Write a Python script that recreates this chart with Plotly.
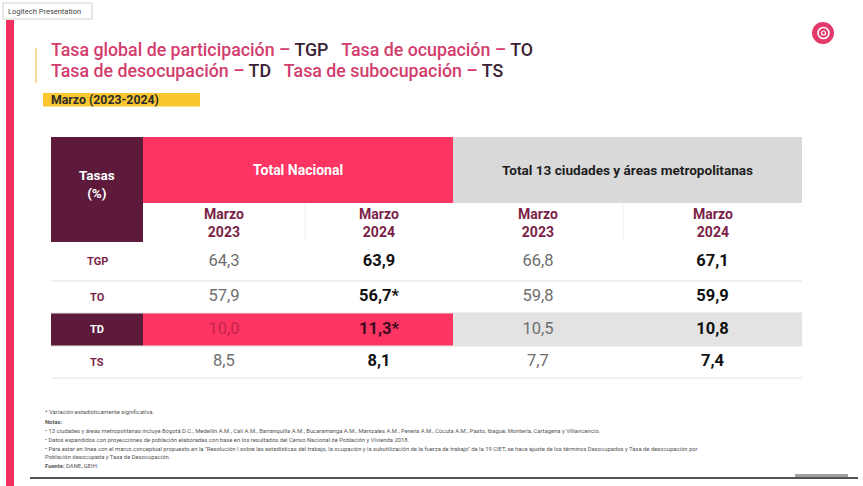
import plotly.graph_objects as go

# ---------------- data ----------------
rates = ["TGP", "TO", "TD", "TS"]
group_labels = ["Total Nacional", "Total 13 ciudades y áreas metropolitanas"]
period_labels = ["Marzo<br>2023", "Marzo<br>2024", "Marzo<br>2023", "Marzo<br>2024"]
nacional_2023 = [64.3, 57.9, 10.0, 8.5]
nacional_2024 = [63.9, 56.7, 11.3, 8.1]
ciudades_2023 = [66.8, 59.8, 10.5, 7.7]
ciudades_2024 = [67.1, 59.9, 10.8, 7.4]
significant_nacional_2024 = [False, True, True, False]
significant_ciudades_2024 = [False, False, False, False]

# ---------------- style / layout constants ----------------
W, H = 863, 486
FONT = "Roboto, Arial, sans-serif"
PINK = "#fe3462"
MAROON = "#5e1a3b"
GRAY_HDR = "#d9d9d9"
TITLE_PINK = "#d23d6e"
DARK = "#3a2235"

col_edges = [143, 305, 453, 623, 802]
label_left = 51
hdr_top, hdr_bot, sub_bot = 137, 203, 242
row_edges = [242, 281, 313, 346, 378]

fig = go.Figure()
shapes = []
ann = []

def rect(x0, y0, x1, y1, color, line=None, lw=0):
    shapes.append(dict(type="rect", xref="x", yref="y", x0=x0, y0=y0, x1=x1, y1=y1,
                       fillcolor=color, line=dict(color=line or color, width=lw), layer="below"))

def hline(x0, x1, y, color, w=1):
    shapes.append(dict(type="line", xref="x", yref="y", x0=x0, x1=x1, y0=y, y1=y,
                       line=dict(color=color, width=w)))

def vline(x, y0, y1, color, w=1):
    shapes.append(dict(type="line", xref="x", yref="y", x0=x, x1=x, y0=y0, y1=y1,
                       line=dict(color=color, width=w)))

def text(x, y, s, size, color, xanchor="center", yanchor="middle", align="center", weight=None):
    f = dict(family=FONT, size=size, color=color)
    if weight:
        f["weight"] = weight
    ann.append(dict(x=x, y=y, xref="x", yref="y", text=s, showarrow=False, font=f,
                    xanchor=xanchor, yanchor=yanchor, align=align))

# slide decoration
rect(6, 20, 14, H, "#f2305f")
rect(3, 3, 92, 19, "white", line="#cfcfcf", lw=1)
text(6, 11, "Logitech Presentation", 7.5, "#444", xanchor="left")
vline(36, 48, 83, "#f0d27a", 1.5)

# title
title1 = (f"<span style='color:{TITLE_PINK}'>Tasa global de participación – </span>"
          f"<span style='color:{DARK}'>TGP</span>"
          f"<span style='color:{TITLE_PINK}'>   Tasa de ocupación – </span>"
          f"<span style='color:{DARK}'>TO</span>")
title2 = (f"<span style='color:{TITLE_PINK}'>Tasa de desocupación – </span>"
          f"<span style='color:{DARK}'>TD</span>"
          f"<span style='color:{TITLE_PINK}'>   Tasa de subocupación – </span>"
          f"<span style='color:{DARK}'>TS</span>")
text(49, 49.5, title1, 17.8, TITLE_PINK, xanchor="left", weight=500)
text(49, 70.5, title2, 17.8, TITLE_PINK, xanchor="left", weight=500)
rect(43, 93, 200, 106.5, "#fbc72f")
text(49, 99.8, "<b>Marzo (2023-2024)</b>", 12.3, "#2b2b2b", xanchor="left")

# logo
shapes.append(dict(type="circle", xref="x", yref="y", x0=812, x1=834, y0=22, y1=44,
                   fillcolor="#e5386b", line=dict(color="#e5386b", width=0)))
shapes.append(dict(type="circle", xref="x", yref="y", x0=818, x1=829, y0=27.5, y1=38.5,
                   fillcolor="rgba(0,0,0,0)", line=dict(color="white", width=1.6)))
shapes.append(dict(type="circle", xref="x", yref="y", x0=821.5, x1=825.5, y0=31, y1=35,
                   fillcolor="rgba(0,0,0,0)", line=dict(color="white", width=1.2)))

# table header
rect(label_left, hdr_top, col_edges[0], sub_bot, MAROON)
rect(col_edges[0], hdr_top, col_edges[2], hdr_bot, PINK)
rect(col_edges[2], hdr_top, col_edges[4], hdr_bot, GRAY_HDR)
text((label_left + col_edges[0]) / 2, 184, "<b>Tasas<br>(%)</b>", 13.5, "white")
text((col_edges[0] + col_edges[2]) / 2, 170, f"<b>{group_labels[0]}</b>", 14, "white")
text((col_edges[2] + col_edges[4]) / 2, 170, f"<b>{group_labels[1]}</b>", 13.6, "#1e1e1e")
for i in (1, 3):
    vline(col_edges[i], hdr_bot + 2, sub_bot - 2, "#eeeeee", 1)
for i, p in enumerate(period_labels):
    cx = (col_edges[i] + col_edges[i + 1]) / 2
    text(cx, 223, f"<b>{p}</b>", 14, "#7b1f48")

# TD band
td = rates.index("TD")
rect(label_left, row_edges[td], col_edges[0], row_edges[td + 1], MAROON)
rect(col_edges[0], row_edges[td], col_edges[2], row_edges[td + 1], PINK)
rect(col_edges[2], row_edges[td], col_edges[4], row_edges[td + 1], "#e3e3e3")

for y in row_edges[1:]:
    hline(label_left, col_edges[4], y, "#e4e4e4", 1.2)

# row labels
for r, name in enumerate(rates):
    cy = (row_edges[r] + row_edges[r + 1]) / 2
    color = "white" if name == "TD" else "#7b1f48"
    text((label_left + col_edges[0]) / 2, cy, f"<b>{name}</b>", 11, color)

def fmt(v, star=False):
    return f"{v:.1f}".replace(".", ",") + ("*" if star else "")

row_centers = [(row_edges[r] + row_edges[r + 1]) / 2 for r in range(len(rates))]
columns = [
    (nacional_2023, [False] * 4, False),
    (nacional_2024, significant_nacional_2024, True),
    (ciudades_2023, [False] * 4, False),
    (ciudades_2024, significant_ciudades_2024, True),
]
for ci, (vals, sig, bold) in enumerate(columns):
    cx = (col_edges[ci] + col_edges[ci + 1]) / 2
    labels, colors = [], []
    for r, v in enumerate(vals):
        s = fmt(v, sig[r])
        labels.append(f"<b>{s}</b>" if bold else s)
        if bold:
            colors.append("#3a0d1e" if (rates[r] == "TD" and ci < 2) else "#111111")
        else:
            colors.append("#c42450" if (rates[r] == "TD" and ci < 2) else "#6e6e6e")
    fig.add_trace(go.Scatter(
        x=[cx] * len(vals), y=row_centers, mode="text", text=labels,
        textfont=dict(family=FONT, size=16.5, color=colors),
        textposition="middle center", hoverinfo="skip", showlegend=False))

# notes
notes = [
    ("* Variación estadísticamente significativa.", 412),
    ("<b>Notas:</b>", 422),
    ("• 13 ciudades y áreas metropolitanas incluye Bogotá D.C., Medellín A.M., Cali A.M., Barranquilla A.M., Bucaramanga A.M., Manizales A.M., Pereira A.M., Cúcuta A.M., Pasto, Ibagué, Montería, Cartagena y Villavicencio.", 431),
    ("• Datos expandidos con proyecciones de población elaboradas con base en los resultados del Censo Nacional de Población y Vivienda 2018.", 440),
    ("• Para estar en línea con el marco conceptual propuesto en la \"Resolución I sobre las estadísticas del trabajo, la ocupación y la subutilización de la fuerza de trabajo\" de la 19 CIET, se hace ajuste de los términos Desocupados y Tasa de desocupación por", 449),
    ("Población desocupada y Tasa de Desocupación.", 457),
    ("<b>Fuente:</b> DANE, GEIH.", 466),
]
for s, y in notes:
    text(43, y, s, 5.85, "#555555", xanchor="left")

hline(30, 858, 478, "#1a1a1a", 1.5)
hline(795, 848, 475.5, "#a0a0a0", 3)

fig.update_layout(
    width=W, height=H, margin=dict(l=0, r=0, t=0, b=0),
    paper_bgcolor="white", plot_bgcolor="white",
    xaxis=dict(range=[0, W], visible=False, fixedrange=True),
    yaxis=dict(range=[H, 0], visible=False, fixedrange=True),
    shapes=shapes, annotations=ann, showlegend=False,
)
fig.write_html("out.html", config={"displayModeBar": False},
               post_script="document.body.style.margin='0';")
